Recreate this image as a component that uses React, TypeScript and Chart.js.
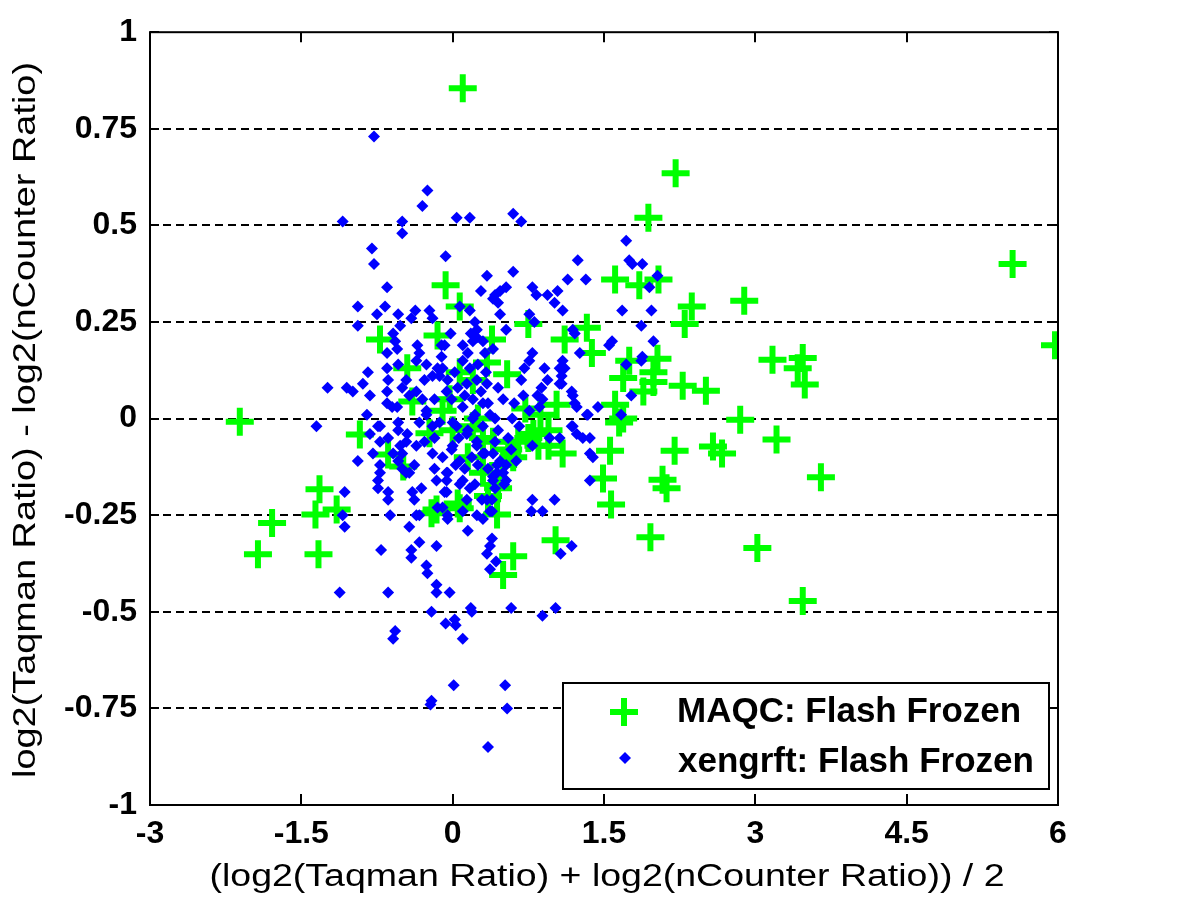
import React, { useEffect, useRef } from 'react';
import { Chart, registerables } from 'chart.js';

Chart.register(...registerables);

const seriesNames = ['MAQC: Flash Frozen', 'xengrft: Flash Frozen'];
const xTitle = '(log2(Taqman Ratio) + log2(nCounter Ratio)) / 2';
const yTitle = 'log2(Taqman Ratio) - log2(nCounter Ratio)';
const xTickValues = [-3, -1.5, 0, 1.5, 3, 4.5, 6];
const xTickLabels = ['-3', '-1.5', '0', '1.5', '3', '4.5', '6'];
const yTickValues = [-1, -0.75, -0.5, -0.25, 0, 0.25, 0.5, 0.75, 1];
const yTickLabels = ['-1', '-0.75', '-0.5', '-0.25', '0', '0.25', '0.5', '0.75', '1'];

// MAQC: Flash Frozen (green crosses)
const maqcPoints: [number, number][] = [
  [0.10, 0.855], [2.21, 0.635], [1.94, 0.52], [5.55, 0.40], [5.97, 0.19],
  [-0.07, 0.345], [0.07, 0.29], [0.75, 0.245], [-0.72, 0.205], [-0.15, 0.215],
  [0.39, 0.205], [1.11, 0.205], [1.33, 0.235], [1.38, 0.17], [-0.45, 0.13],
  [0.07, 0.12], [0.34, 0.145], [0.54, 0.115], [1.61, 0.36], [1.85, 0.345],
  [2.04, 0.36], [2.89, 0.305], [2.37, 0.29], [2.30, 0.245], [1.75, 0.15],
  [2.03, 0.155], [1.99, 0.12], [1.69, 0.105], [1.99, 0.095], [2.28, 0.085],
  [2.51, 0.072], [3.17, 0.152], [3.47, 0.157], [3.42, 0.13], [3.49, 0.088],
  [1.61, 0.036], [1.89, 0.07], [1.03, 0.036], [0.87, 0.01], [0.72, 0.026],
  [1.69, 0.0], [2.85, -0.003], [3.21, -0.054], [2.58, -0.072], [2.67, -0.09],
  [2.20, -0.083], [3.65, -0.152], [2.08, -0.158], [2.12, -0.18], [1.56, -0.083],
  [1.49, -0.155], [1.57, -0.222], [1.09, -0.09], [1.96, -0.307], [1.02, -0.315],
  [3.02, -0.335], [3.47, -0.472], [0.60, -0.356], [0.50, -0.405], [0.44, -0.248],
  [-2.11, -0.008], [-1.32, -0.183], [-1.79, -0.27], [-1.93, -0.351], [-1.33, -0.351],
  [-1.36, -0.248], [-1.15, -0.235], [-0.92, -0.041], [-0.64, -0.093], [-0.49, -0.124],
  [-0.21, -0.245], [0.07, -0.232], [-0.16, -0.235], [-0.23, -0.038], [-0.40, 0.044],
  [-0.03, 0.05], [0.65, -0.06], [0.75, -0.05], [0.85, -0.07], [0.55, -0.08],
  [0.95, -0.07], [0.60, -0.10], [0.40, -0.06], [0.30, -0.05], [0.20, -0.02],
  [0.25, 0.0], [0.50, -0.12], [0.45, -0.18], [0.35, -0.20], [0.80, -0.04],
  [0.95, -0.03], [0.20, 0.10], [0.15, -0.10], [0.05, -0.22], [0.30, -0.14],
  [-0.10, 0.02], [0.0, -0.03], [1.65, -0.01],
];

// xengrft: Flash Frozen (blue dots)
const xengrftPoints: [number, number][] = [
  [-0.78, 0.73], [-0.25, 0.59], [-0.30, 0.55], [-1.09, 0.51], [-0.50, 0.51],
  [-0.50, 0.48], [0.04, 0.52], [0.17, 0.52], [0.60, 0.53], [0.68, 0.51],
  [-0.80, 0.44], [-0.78, 0.40], [-0.07, 0.42], [1.24, 0.41], [1.72, 0.46],
  [1.78, 0.40], [1.88, 0.40], [1.75, 0.41], [2.03, 0.37], [1.95, 0.34],
  [0.34, 0.37], [0.60, 0.38], [1.14, 0.36], [1.32, 0.36], [-0.65, 0.34],
  [0.28, 0.33], [0.42, 0.32], [0.53, 0.34], [0.47, 0.33], [0.40, 0.31],
  [0.79, 0.34], [0.83, 0.32], [0.94, 0.32], [1.04, 0.33], [1.01, 0.30],
  [-0.94, 0.29], [-0.67, 0.29], [-0.75, 0.27], [-0.37, 0.28], [-0.23, 0.28],
  [0.07, 0.29], [0.17, 0.28], [0.45, 0.30], [0.47, 0.27], [0.76, 0.27],
  [1.09, 0.28], [1.68, 0.28], [1.97, 0.28], [1.87, 0.24], [1.99, 0.20],
  [1.88, 0.16], [-0.94, 0.24], [-0.54, 0.27], [-0.41, 0.26], [-0.20, 0.26],
  [0.22, 0.25], [0.53, 0.23], [0.81, 0.25], [1.19, 0.23], [1.21, 0.22],
  [-0.59, 0.22], [-0.52, 0.24], [-0.11, 0.19], [0.20, 0.20], [0.24, 0.23],
  [0.24, 0.21], [-0.35, 0.19], [-0.57, 0.20], [-0.55, 0.18], [0.10, 0.19],
  [-0.08, 0.19], [0.15, 0.17], [0.32, 0.17], [1.09, 0.15], [1.26, 0.17],
  [0.79, 0.17], [-0.65, 0.17], [-0.33, 0.17], [-0.36, 0.15], [0.76, 0.15],
  [1.06, 0.13], [1.58, 0.20], [1.55, 0.19], [-0.84, 0.12], [-0.65, 0.13],
  [-0.54, 0.14], [-0.10, 0.13], [0.17, 0.13], [0.71, 0.13], [0.91, 0.13],
  [1.08, 0.11], [1.11, 0.13], [-0.26, 0.14], [-0.11, 0.16], [-0.15, 0.13],
  [-0.13, 0.11], [-0.64, 0.10], [-0.89, 0.09], [-1.24, 0.08], [-1.05, 0.08],
  [-0.99, 0.07], [-0.82, 0.06], [-0.65, 0.07], [-0.65, 0.04], [-0.55, 0.03],
  [-0.46, 0.10], [-0.50, 0.08], [-0.43, 0.06], [-0.36, 0.07], [-0.20, 0.11],
  [-0.30, 0.05], [-0.18, 0.05], [-0.06, 0.07], [-0.01, 0.05], [0.14, 0.09],
  [0.24, 0.10], [0.34, 0.09], [0.30, 0.04], [0.22, 0.01], [0.10, 0.03],
  [-0.26, 0.02], [-0.60, 0.03], [-0.85, 0.01], [-0.74, -0.02], [-0.54, -0.01],
  [-0.33, -0.01], [0.68, 0.10], [0.84, 0.06], [1.19, 0.06], [1.23, 0.03],
  [1.34, 0.01], [0.94, 0.10], [1.06, 0.09], [0.88, 0.08], [0.89, 0.05],
  [1.18, 0.07], [1.21, 0.04], [1.72, 0.14], [1.87, 0.15], [1.77, 0.06],
  [0.50, 0.05], [0.61, 0.04], [0.42, 0.00], [0.59, 0.00], [0.86, 0.03],
  [1.33, 0.01], [1.44, 0.03], [1.67, 0.01], [1.19, -0.02], [1.08, 0.09],
  [-0.72, -0.02], [-0.82, -0.04], [-0.64, -0.05], [-0.54, -0.03], [-0.45, -0.04],
  [-0.72, -0.06], [-0.79, -0.09], [-0.59, -0.09], [-0.52, -0.07], [-0.36, -0.07],
  [-0.38, -0.12], [-0.50, -0.13], [-0.46, -0.14], [-0.72, -0.12], [-0.74, -0.16],
  [-0.74, -0.18], [-0.64, -0.19], [-0.64, -0.21], [-0.62, -0.25], [-0.43, -0.28],
  [-0.40, -0.19], [-0.38, -0.21], [-0.31, -0.18], [-0.33, -0.25], [-0.18, -0.13],
  [-0.16, -0.16], [-0.05, -0.14], [-0.08, -0.19], [-0.18, -0.05], [-0.01, -0.08],
  [0.04, -0.02], [0.14, -0.04], [0.24, -0.06], [0.32, -0.09], [0.19, -0.10],
  [0.10, -0.16], [0.22, -0.17], [0.14, -0.21], [0.29, -0.21], [0.34, -0.21],
  [0.40, -0.16], [0.37, -0.24], [0.24, -0.25], [0.10, -0.24], [0.15, -0.29],
  [-0.05, -0.25], [-0.15, -0.23], [0.39, -0.31], [0.37, -0.33], [0.34, -0.35],
  [0.43, -0.37], [0.37, -0.39], [-1.07, -0.19], [-1.09, -0.25], [-1.07, -0.28],
  [-0.71, -0.34], [-0.41, -0.34], [-0.41, -0.36], [-0.33, -0.32], [-0.16, -0.33],
  [-0.26, -0.38], [-0.25, -0.40], [-1.12, -0.45], [-0.64, -0.45], [-0.16, -0.43],
  [-0.16, -0.45], [-0.03, -0.45], [-1.35, -0.02], [-0.94, -0.11], [-0.21, -0.50],
  [-0.07, -0.53], [0.02, -0.52], [0.03, -0.535], [0.10, -0.57], [0.18, -0.49],
  [0.19, -0.50], [0.58, -0.49], [0.89, -0.51], [1.02, -0.49], [-0.57, -0.55],
  [-0.59, -0.57], [0.01, -0.69], [0.52, -0.69], [-0.22, -0.74], [-0.21, -0.73],
  [0.54, -0.75], [0.35, -0.85], [1.07, -0.35], [1.18, -0.33], [0.79, -0.21],
  [1.01, -0.21], [0.78, -0.24], [0.89, -0.24], [1.36, -0.16], [-0.36, -0.25],
  [-0.10, -0.23], [-0.05, -0.26], [0.30, -0.26], [0.53, -0.16], [0.50, -0.14],
  [-0.72, -0.14], [-0.46, -0.06], [-0.50, -0.09], [-0.54, -0.11], [-0.43, -0.14],
  [-0.06, -0.14], [-0.06, -0.16], [-0.06, -0.19], [0.07, -0.17], [0.17, -0.18],
  [-0.28, -0.06], [-0.20, -0.09], [0.00, -0.07], [0.07, -0.11], [0.24, -0.07],
  [0.30, -0.09], [0.44, -0.12], [0.53, -0.12], [0.63, -0.11], [0.79, -0.07],
  [0.96, -0.05], [1.06, -0.05], [1.18, -0.02], [1.29, -0.05], [1.36, -0.09],
  [1.39, -0.10], [-0.26, 0.01], [-0.13, -0.01], [0.00, -0.01], [0.20, 0.00],
  [0.37, 0.01], [0.76, 0.02], [1.23, -0.04], [1.36, -0.05], [0.42, -0.06],
  [0.40, -0.09], [0.47, -0.11], [0.44, -0.14], [0.40, -0.15], [0.51, -0.17],
  [0.42, -0.18], [0.39, -0.21], [0.39, -0.24],
  [0.05, 0.08], [0.12, 0.06], [0.20, 0.05], [0.28, 0.07], [0.35, 0.04],
  [0.02, 0.12], [0.10, 0.15], [0.25, 0.14], [0.33, 0.12], [-0.05, 0.10],
  [0.15, -0.03], [0.30, -0.02], [0.06, -0.05], [0.45, -0.03], [0.55, -0.05],
  [0.25, -0.12], [0.12, -0.13], [0.35, -0.13], [0.03, -0.12], [-0.10, -0.10],
  [0.58, -0.08], [0.66, -0.02], [0.70, 0.06], [0.45, 0.08], [-0.20, -0.02],
  [-0.28, 0.10], [0.18, 0.22], [0.30, 0.20], [0.40, 0.18], [-0.02, 0.22],
];

const GREEN = '#00ff00';
const BLUE = '#0000ff';
const FONT = "'Liberation Sans', Arial, Helvetica, sans-serif";

function fitText(ctx: CanvasRenderingContext2D, text: string, cx: number, cy: number, targetW: number, font: string, rotate: boolean) {
  ctx.save();
  ctx.font = font;
  const w = ctx.measureText(text).width;
  ctx.translate(cx, cy);
  if (rotate) ctx.rotate(-Math.PI / 2);
  ctx.scale(targetW / w, 1);
  ctx.textAlign = 'center';
  ctx.textBaseline = 'middle';
  ctx.fillStyle = '#000';
  ctx.fillText(text, 0, 0);
  ctx.restore();
}

const framePlugin = {
  id: 'matlabFrame',
  afterDatasetsDraw(chart: any) {
    const { ctx, chartArea: a, scales } = chart;
    ctx.save();
    ctx.strokeStyle = '#000';
    ctx.lineWidth = 2;
    ctx.setLineDash([]);
    ctx.beginPath();
    xTickValues.forEach((v) => {
      const px = Math.round(scales.x.getPixelForValue(v));
      ctx.moveTo(px, a.bottom);
      ctx.lineTo(px, a.bottom - 11);
      ctx.moveTo(px, a.top);
      ctx.lineTo(px, a.top + 10);
    });
    yTickValues.forEach((v) => {
      const py = Math.round(scales.y.getPixelForValue(v));
      ctx.moveTo(a.left, py);
      ctx.lineTo(a.left + 9, py);
      ctx.moveTo(a.right, py);
      ctx.lineTo(a.right - 9, py);
    });
    ctx.stroke();
    ctx.strokeRect(a.left, a.top, a.right - a.left, a.bottom - a.top);

    // legend box
    const lx = 563, ly = 683, lw = 486, lh = 106;
    ctx.fillStyle = '#fff';
    ctx.fillRect(lx, ly, lw, lh);
    ctx.strokeRect(lx, ly, lw, lh);
    // green cross
    ctx.strokeStyle = GREEN;
    ctx.lineWidth = 6;
    ctx.beginPath();
    ctx.moveTo(610, 712); ctx.lineTo(638, 712);
    ctx.moveTo(624, 698); ctx.lineTo(624, 726);
    ctx.stroke();
    // blue diamond
    ctx.fillStyle = BLUE;
    ctx.beginPath();
    ctx.moveTo(625, 752); ctx.lineTo(631, 758); ctx.lineTo(625, 764); ctx.lineTo(619, 758);
    ctx.closePath();
    ctx.fill();
    ctx.fillStyle = '#000';
    ctx.font = `bold 35px ${FONT}`;
    ctx.textAlign = 'left';
    ctx.textBaseline = 'middle';
    ctx.fillText(seriesNames[0], 677, 712);
    ctx.fillText(seriesNames[1], 678, 762);

    // axis titles
    fitText(ctx, xTitle, 607, 877, 795, `31px ${FONT}`, false);
    fitText(ctx, yTitle, 26, 420, 716, `31px ${FONT}`, true);
    ctx.restore();
  },
};

export default function App() {
  const ref = useRef<HTMLCanvasElement>(null);
  useEffect(() => {
    document.body.style.margin = '0';
    const canvas = ref.current!;
    const chart = new Chart(canvas, {
      type: 'scatter',
      data: {
        datasets: [
          {
            label: seriesNames[0],
            data: maqcPoints.map(([x, y]) => ({ x, y })),
            pointStyle: 'cross',
            pointRadius: 14,
            pointHoverRadius: 14,
            pointBorderWidth: 6,
            borderColor: GREEN,
            backgroundColor: GREEN,
            order: 1,
            clip: 0,
          },
          {
            label: seriesNames[1],
            data: xengrftPoints.map(([x, y]) => ({ x, y })),
            pointStyle: 'rectRot',
            pointRadius: 6,
            pointHoverRadius: 6,
            pointBorderWidth: 0,
            borderColor: BLUE,
            backgroundColor: BLUE,
            order: 0,
            clip: 0,
          },
        ],
      },
      options: {
        responsive: false,
        animation: false,
        events: [],
        devicePixelRatio: 1,
        layout: { padding: { left: 0, top: 30, right: 142, bottom: 0 } },
        plugins: { legend: { display: false }, tooltip: { enabled: false }, title: { display: false } },
        scales: {
          x: {
            type: 'linear',
            min: -3,
            max: 6,
            afterFit: (s: any) => { s.height = 102; },
            afterBuildTicks: (s: any) => { s.ticks = xTickValues.map((v) => ({ value: v })); },
            ticks: {
              callback: (_v: any, i: number) => xTickLabels[i],
              font: { family: FONT, size: 32, weight: 'bold' },
              color: '#000',
              padding: 10,
              maxRotation: 0,
              autoSkip: false,
            },
            grid: { display: false, drawTicks: false },
            border: { display: false },
          },
          y: {
            type: 'linear',
            min: -1,
            max: 1,
            afterFit: (s: any) => { s.width = 150; },
            afterBuildTicks: (s: any) => { s.ticks = yTickValues.map((v) => ({ value: v })); },
            ticks: {
              callback: (_v: any, i: number) => yTickLabels[i],
              font: { family: FONT, size: 32, weight: 'bold' },
              color: '#000',
              padding: 13,
              autoSkip: false,
            },
            grid: {
              drawTicks: false,
              lineWidth: 2,
              color: (c: any) => (c.tick && Math.abs(c.tick.value) > 0.99 ? 'rgba(0,0,0,0)' : '#000'),
            },
            border: { display: false, dash: [8, 5] },
          },
        },
      },
      plugins: [framePlugin],
    } as any);
    return () => chart.destroy();
  }, []);
  return (
    <div style={{ position: 'relative', width: 1200, height: 907, background: '#fff' }}>
      <canvas ref={ref} width={1200} height={907} style={{ display: 'block', width: 1200, height: 907 }} />
    </div>
  );
}
